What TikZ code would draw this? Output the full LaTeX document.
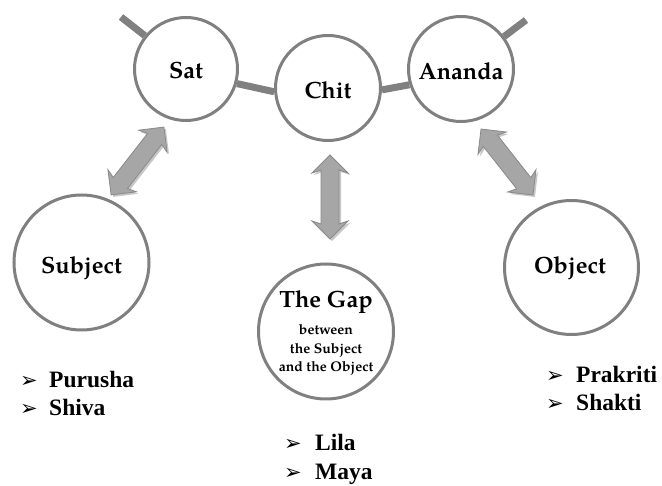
\documentclass[tikz,border=0pt]{standalone}
\usepackage{fontspec}
\setmainfont{Liberation Serif}
\newfontfamily\palfont[Extension=.otf,UprightFont=*-regular,BoldFont=*-bold]{texgyrepagella}
\newfontfamily\symfont{DejaVu Sans}
\usetikzlibrary{backgrounds}
\definecolor{ringgray}{HTML}{808080}
\definecolor{arrowfill}{HTML}{A6A6A6}
\definecolor{arrowedge}{HTML}{8A8A8A}
\tikzset{
  pics/dblarrow/.style={code={
    \path[pic actions] (-#1,0) -- (-#1+18,18) -- (-#1+15,9) -- (#1-15,9) -- (#1-18,18) -- (#1,0)
      -- (#1-18,-18) -- (#1-15,-9) -- (-#1+15,-9) -- (-#1+18,-18) -- cycle;
  }},
  blockarrow/.style={fill=arrowfill, draw=arrowedge, line width=0.8pt, line join=miter},
  blockshadow/.style={fill=black, opacity=0.22, draw=none},
}
\begin{document}
\begin{tikzpicture}[x=1pt,y=-1pt,
  ring/.style={circle, draw=ringgray, line width=3pt, fill=white, inner sep=0pt},
  lab/.style={font=\palfont\bfseries\fontsize{23.5}{26}\selectfont, inner sep=0pt},
  bar/.style={draw=ringgray, line width=7pt},
  bul/.style={font=\symfont\fontsize{21}{24}\selectfont, anchor=base west, inner sep=0pt},
  item/.style={font=\bfseries\fontsize{23.5}{26}\selectfont, anchor=base west, inner sep=0pt},
]
\useasboundingbox (0,0) rectangle (662,486);

% top circles
\node[ring, minimum size=103pt] (sat) at (186,69) {};
\node[ring, minimum size=105pt] (chit) at (328,88) {};
\node[ring, minimum size=105pt] (ananda) at (461,69) {};
\node[lab] (sattext) at (186,71) {Sat};
\node[lab] (chittext) at (328,90) {Chit};
\node[lab] (anandatext) at (461,71) {Ananda};

% bottom circles
\node[ring, minimum size=135pt] (subject) at (81.5,262.5) {};
\node[ring, minimum size=135pt] (gap) at (326,331.5) {};
\node[ring, minimum size=134pt] (object) at (571.5,267.5) {};
\node[lab] (subjecttext) at (81.5,268) {Subject};
\node[lab] (objecttext) at (570,268) {Object};
\node[lab, anchor=base] (gaptitle) at (326,308) {The Gap};
\node[font=\palfont\bfseries\fontsize{14}{18.5}\selectfont, align=center, inner sep=0pt, anchor=base] (gapsub) at (326,372)
  {between\\the Subject\\and the Object};

% connecting bars
\begin{scope}[on background layer]
\fill[white] (0,0) rectangle (662,486);
\coordinate (satend) at (121,17);
\coordinate (anandaend) at (526,20);
\draw[bar] (sat.141.4) -- (satend);
\draw[bar] (ananda.37.4) -- (anandaend);
\draw[bar] (sat.-16) -- (chit.184);
\draw[bar] (chit.-2) -- (ananda.197);
\end{scope}

% block arrows
\pic[rotate=52.1, blockshadow] (leftshadow) at (139.5,163) {dblarrow=43};
\pic[rotate=52.1, blockarrow] (leftarrow) at (137.5,161) {dblarrow=43};
\pic[rotate=90, blockshadow] (midshadow) at (332,199) {dblarrow=42};
\pic[rotate=90, blockarrow] (midarrow) at (330,197) {dblarrow=42};
\pic[rotate=-51.8, blockshadow] (rightshadow) at (509,164) {dblarrow=42};
\pic[rotate=-51.8, blockarrow] (rightarrow) at (507,162) {dblarrow=42};

% bullet lists
\node[bul] (b1) at (20,388) {➢};
\node[item] (purusha) at (49,388) {Purusha};
\node[bul] (b2) at (20,416) {➢};
\node[item] (shiva) at (49,416) {Shiva};
\node[bul] (b3) at (546,383) {➢};
\node[item] (prakriti) at (576,383) {Prakriti};
\node[bul] (b4) at (546,411) {➢};
\node[item] (shakti) at (576,411) {Shakti};
\node[bul] (b5) at (284,451) {➢};
\node[item] (lila) at (315,451) {Lila};
\node[bul] (b6) at (284,479) {➢};
\node[item] (maya) at (315,479) {Maya};
\end{tikzpicture}
\end{document}
